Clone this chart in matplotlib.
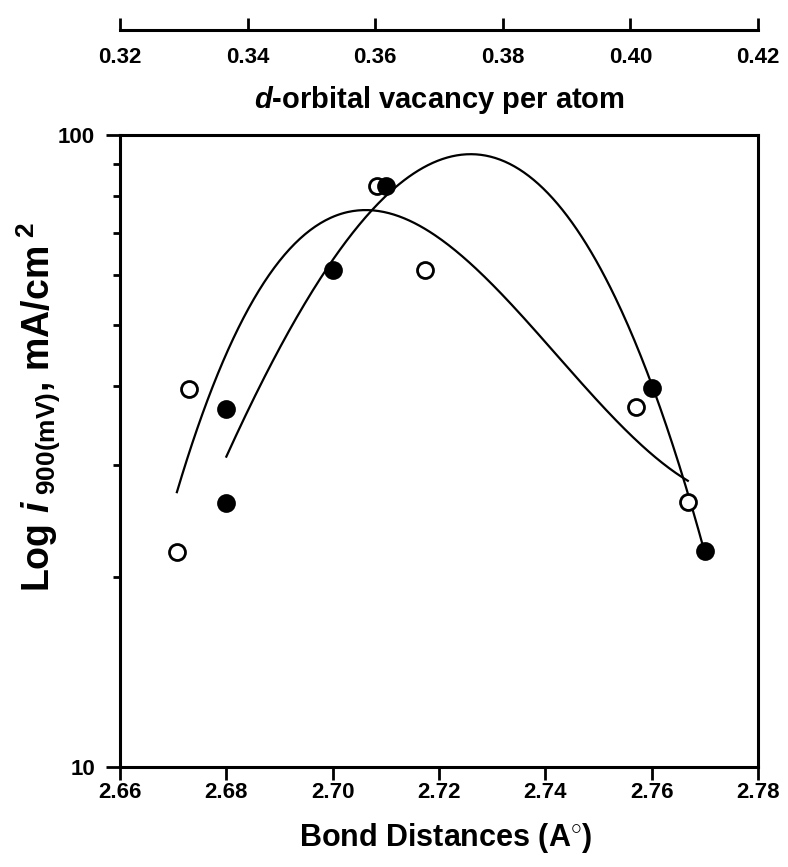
import numpy as np
import matplotlib
matplotlib.use("Agg")
import matplotlib.pyplot as plt
from matplotlib.ticker import FixedLocator, NullFormatter, LogLocator

plt.rcParams['font.family'] = ['Liberation Sans', 'DejaVu Sans']
plt.rcParams['font.weight'] = 'bold'
plt.rcParams['mathtext.fontset'] = 'custom'
plt.rcParams['mathtext.rm'] = 'Liberation Sans:bold'
plt.rcParams['mathtext.it'] = 'Liberation Sans:bold:italic'
plt.rcParams['mathtext.bf'] = 'Liberation Sans:bold'

# ---- data ----
open_x = [2.6707, 2.6730, 2.7083, 2.7174, 2.7571, 2.7668]
open_y = [21.9, 39.7, 82.9, 61.1, 37.1, 26.3]
filled_x = [2.680, 2.680, 2.700, 2.710, 2.760, 2.770]
filled_y = [36.9, 26.2, 61.1, 82.9, 39.8, 22.0]

bond_ticks = [2.66, 2.68, 2.70, 2.72, 2.74, 2.76, 2.78]
vac_ticks = [0.32, 0.34, 0.36, 0.38, 0.40, 0.42]

W, H = 788, 867
fig = plt.figure(figsize=(W / 100, H / 100), dpi=100)

L, R, T, B = 120, 758, 135, 767
ax = fig.add_axes([L / W, 1 - B / H, (R - L) / W, (B - T) / H])

def cubic_fit(x, y):
    x = np.asarray(x); y = np.asarray(y)
    c = np.polyfit(x, np.log10(y), 3)
    xs = np.linspace(x.min(), x.max(), 300)
    return xs, 10 ** np.polyval(c, xs)

xs, ys = cubic_fit(open_x, open_y)
ax.plot(xs, ys, color='black', lw=1.6, zorder=2)
xs, ys = cubic_fit(filled_x, filled_y)
ax.plot(xs, ys, color='black', lw=1.6, zorder=2)

ax.plot(open_x, open_y, 'o', ms=11.5, mfc='white', mec='black', mew=2.0,
        ls='none', zorder=3)
ax.plot(filled_x, filled_y, 'o', ms=11.5, mfc='black', mec='black', mew=2.0,
        ls='none', zorder=4)

ax.set_yscale('log')
ax.set_ylim(10, 100)
ax.set_xlim(2.66, 2.78)
ax.xaxis.set_major_locator(FixedLocator(bond_ticks))
ax.set_xticklabels([f"{t:.2f}" for t in bond_ticks])
ax.yaxis.set_major_locator(FixedLocator([10, 100]))
ax.set_yticklabels(["10", "100"])
ax.yaxis.set_minor_locator(LogLocator(base=10, subs=np.arange(2, 10)))
ax.yaxis.set_minor_formatter(NullFormatter())

for s in ax.spines.values():
    s.set_linewidth(2.2)
ax.tick_params(axis='x', which='major', direction='out', length=9, width=2.0,
               labelsize=16, pad=2)
ax.tick_params(axis='y', which='major', direction='out', length=10, width=2.0,
               labelsize=16, pad=8)
ax.tick_params(axis='y', which='minor', direction='out', length=5, width=2.0)

ax.set_xlabel("Bond Distances (A$^{\\circ}$)", fontsize=22, fontweight='bold')
ax.xaxis.set_label_coords(0.51, -0.085)
ax.set_ylabel("Log $\\mathit{i}_{\\ \\mathrm{900(mV)}}$, mA/cm$^{\\ \\mathrm{2}}$",
              fontsize=27, fontweight='bold')
ax.yaxis.set_label_coords(-0.089, 0.57)

# ---- top secondary axis ----
ytop = 30
ax2 = fig.add_axes([L / W, 1 - ytop / H, (R - L) / W, 0.005])
ax2.patch.set_visible(False)
for k in ['left', 'right', 'top']:
    ax2.spines[k].set_visible(False)
ax2.spines['bottom'].set_linewidth(2.2)
ax2.set_xlim(0.32, 0.42)
ax2.set_yticks([])
ax2.xaxis.set_major_locator(FixedLocator(vac_ticks))
ax2.set_xticklabels([f"{t:.2f}" for t in vac_ticks])
ax2.tick_params(axis='x', direction='in', length=9, width=2.0, labelsize=16, pad=12)
ax2.set_xlabel("$\\mathit{d}$-orbital vacancy per atom", fontsize=21,
               fontweight='bold', labelpad=12)

fig.savefig("out.png", dpi=100)
